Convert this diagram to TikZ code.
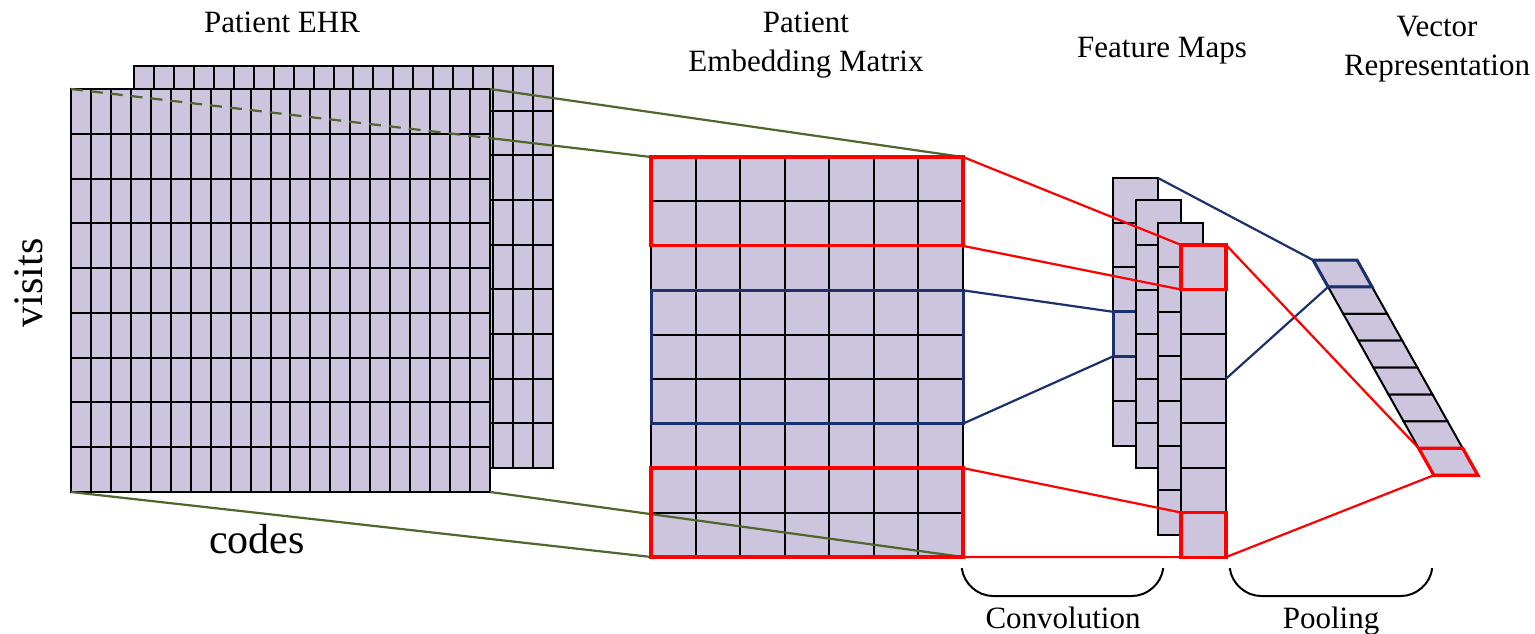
\documentclass[tikz,border=0pt]{standalone}
\usepackage{fontspec}
\setmainfont{Liberation Serif}
\usetikzlibrary{calc}
\definecolor{cellfill}{RGB}{205,196,221}
\definecolor{ehrline}{RGB}{80,102,44}
\definecolor{navyline}{RGB}{28,48,108}
\begin{document}
\begin{tikzpicture}[x=0.5pt,y=-0.5pt,
  cell/.style={draw=black,fill=cellfill,line width=1pt},
  redbox/.style={draw=red,line width=1.6pt},
  bluebox/.style={draw=navyline,line width=1.5pt},
  link/.style={line width=1.1pt},
  title/.style={font=\fontsize{15.5}{19.5}\selectfont,align=center,inner sep=0pt},
  axis/.style={font=\fontsize{21}{25}\selectfont,inner sep=0pt},
  brace/.style={line width=1pt,rounded corners=14pt}]
\useasboundingbox (0,0) rectangle (1535,633);

% patient EHR: back sheet, then front sheet
\foreach \i in {0,...,20}
  \foreach \j in {0,...,8}
    \draw[cell] (134+\i*19.95,66+\j*44.67) rectangle ++(19.95,44.67);
\foreach \i in {0,...,20}
  \foreach \j in {0,...,8}
    \draw[cell] (71+\i*19.95,89+\j*44.78) rectangle ++(19.95,44.78);
\coordinate (ehr-nw) at (71,89);
\coordinate (ehr-ne) at (490,89);
\coordinate (ehr-sw) at (71,492);
\coordinate (ehr-se) at (490,492);

% embedding matrix
\foreach \i in {0,...,6}
  \foreach \j in {0,...,8}
    \draw[cell] (651+\i*44.57,157+\j*44.44) rectangle ++(44.57,44.44);
\foreach \j in {0,...,9} {
  \coordinate (emb-w\j) at (651,157+\j*44.44);
  \coordinate (emb-e\j) at (963,157+\j*44.44);
}

% projection from the EHR
\coordinate (ehr-cut) at ($(ehr-nw)!0.7224!(emb-w0)$);
\draw[link,ehrline,dash pattern=on 6pt off 4pt] (ehr-nw) -- (ehr-cut);
\draw[link,ehrline] (ehr-cut) -- (emb-w0);
\draw[link,ehrline] (ehr-ne) -- (emb-e0);
\draw[link,ehrline] (ehr-sw) -- (emb-w9);
\draw[link,ehrline] (ehr-se) -- (emb-e9);

% filter windows
\draw[redbox] (emb-w0) rectangle (emb-e2);
\draw[bluebox] (emb-w3) rectangle (emb-e6);
\draw[redbox] (emb-w7) rectangle (emb-e9);

% feature maps, back to front
\foreach \k/\n in {0/5,1/5,2/6,3/6} {
  \foreach \j in {0,...,\n}
    \draw[cell] (1113+\k*22.67,178+\k*22.3+\j*44.6) rectangle ++(45,44.6);
  \ifnum\k=0
    \draw[bluebox] (1113,311.8) rectangle ++(45,44.6);
  \fi
}
\coordinate (map0-ne) at (1158,178);
\coordinate (map0-w3) at (1113,311.8);
\coordinate (map0-w4) at (1113,356.4);
\foreach \j in {0,...,7} {
  \coordinate (map3-w\j) at (1181,244.9+\j*44.6);
  \coordinate (map3-e\j) at (1226,244.9+\j*44.6);
}
\draw[redbox] (map3-w0) rectangle (map3-e1);
\draw[redbox] (map3-w6) rectangle (map3-e7);

% pooled vector
\foreach \j in {0,...,7}
  \draw[cell] (1313+\j*15.1,260+\j*26.9) -- ++(44,0) -- ++(15.1,26.9) -- ++(-44,0) -- cycle;
\foreach \j in {0,...,8}
  \coordinate (vec-w\j) at (1313+\j*15.1,260+\j*26.9);
\draw[bluebox] (vec-w0) -- ++(44,0) -- ++(15.1,26.9) -- (vec-w1) -- cycle;
\draw[redbox] (vec-w7) -- ++(44,0) -- ++(15.1,26.9) -- (vec-w8) -- cycle;

% convolution and pooling links
\draw[link,red] (emb-e0) -- (map3-w0);
\draw[link,red] (emb-e2) -- (map3-w1);
\draw[link,red] (emb-e7) -- (map3-w6);
\draw[link,red] (emb-e9) -- (map3-w7);
\draw[link,navyline] (emb-e3) -- (map0-w3);
\draw[link,navyline] (emb-e6) -- (map0-w4);
\draw[link,navyline] (map0-ne) -- (vec-w0);
\draw[link,navyline] (map3-e3) -- (vec-w1);
\draw[link,red] (map3-e0) -- (vec-w7);
\draw[link,red] (map3-e7) -- (vec-w8);

% braces
\draw[brace] (962,570) -- (965,596) -- (1160,596) -- (1163,570);
\draw[brace] (1230,570) -- (1233,596) -- (1429,596) -- (1432,570);

% labels
\node[title,anchor=base] (ehr-title) at (282,32) {Patient EHR};
\node[title] (emb-title) at (806,45) {Patient\\Embedding Matrix};
\node[title,anchor=base] (map-title) at (1162,57) {Feature Maps};
\node[title] (vec-title) at (1437,49) {Vector\\Representation};
\node[axis,rotate=90,anchor=base] (visits) at (42,283) {visits};
\node[axis,anchor=base] (codes) at (257,553) {codes};
\node[title,anchor=base] (conv) at (1063,628) {Convolution};
\node[title,anchor=base] (pool) at (1331,628) {Pooling};
\end{tikzpicture}
\end{document}
